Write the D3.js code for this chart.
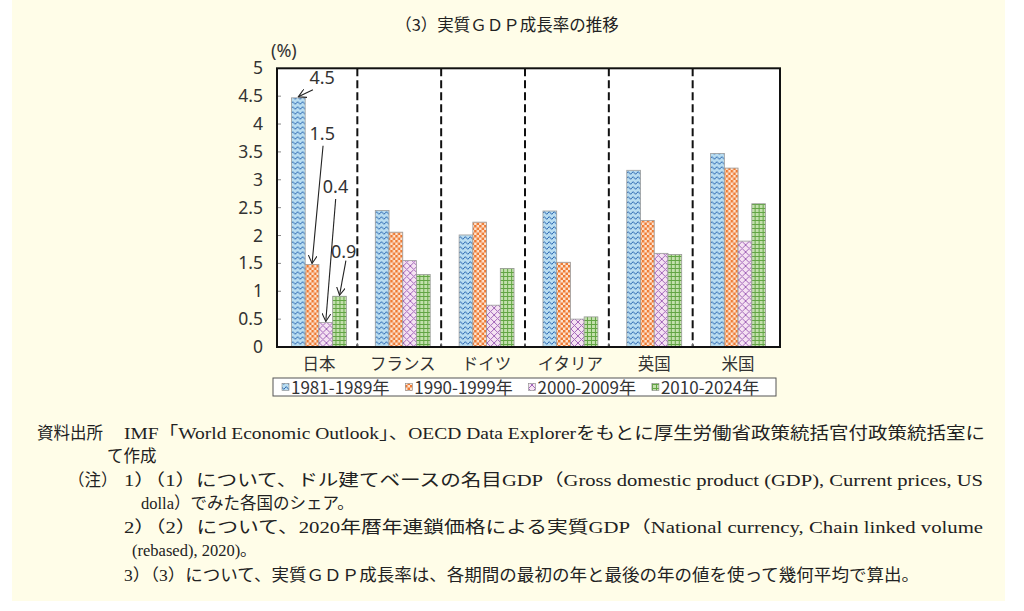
<!DOCTYPE html>
<html>
<head>
<meta charset="utf-8">
<script src="https://cdn.jsdelivr.net/npm/d3@7"></script>
<style>
  body { margin: 0; background: #fff; }
</style>
</head>
<body>
<div id="chart"></div>
<script>
// values
const countries = ["日本", "フランス", "ドイツ", "イタリア", "英国", "米国"];
const periods = ["1981-1989年", "1990-1999年", "2000-2009年", "2010-2024年"];
const growth1981 = [4.47, 2.45, 2.01, 2.44, 3.17, 3.47];
const growth1990 = [1.48, 2.06, 2.24, 1.52, 2.27, 3.21];
const growth2000 = [0.44, 1.55, 0.75, 0.50, 1.68, 1.90];
const growth2010 = [0.91, 1.30, 1.41, 0.54, 1.66, 2.57];
const yTicks = [0, 0.5, 1, 1.5, 2, 2.5, 3, 3.5, 4, 4.5, 5];

const title = "（3）実質ＧＤＰ成長率の推移";
const noteLines = [
  "資料出所",
  "IMF「World Economic Outlook」、OECD Data Explorerをもとに厚生労働省政策統括官付政策統括室に",
  "て作成",
  "（注）",
  "1）（1）について、ドル建てベースの名目GDP（Gross domestic product (GDP), Current prices, US",
  "dolla）でみた各国のシェア。",
  "2）（2）について、2020年暦年連鎖価格による実質GDP（National currency, Chain linked volume",
  "(rebased), 2020)。",
  "3）（3）について、実質ＧＤＰ成長率は、各期間の最初の年と最後の年の値を使って幾何平均で算出。"
];

const series = [growth1981, growth1990, growth2000, growth2010];
const data = countries.map((c, i) => ({
  country: c,
  values: periods.map((p, j) => ({ period: p, value: series[j][i] }))
}));

const CJK = "Noto Sans CJK JP, Noto Sans, sans-serif";
const LATIN = "Noto Sans, sans-serif";
const W = 1024, H = 611;
const plot = { left: 277, right: 780, top: 68.3, bottom: 347 };

const svg = d3.select("#chart").append("svg")
  .attr("width", W).attr("height", H)
  .attr("font-family", CJK);

svg.append("rect").attr("width", W).attr("height", H).attr("fill", "#fff");
svg.append("rect").attr("x", 12).attr("y", 0).attr("width", 993).attr("height", 601)
  .attr("fill", "#fffde8");

// patterns
const defs = svg.append("defs");
const pWave = defs.append("pattern").attr("id", "p0").attr("patternUnits", "userSpaceOnUse")
  .attr("width", 5).attr("height", 5);
pWave.append("rect").attr("width", 5).attr("height", 5).attr("fill", "#b9ddf1");
pWave.append("path").attr("d", "M0,3 Q1.25,0.3 2.5,3 T5,3").attr("fill", "none")
  .attr("stroke", "#2a66b0").attr("stroke-width", 1);

const pCheck = defs.append("pattern").attr("id", "p1").attr("patternUnits", "userSpaceOnUse")
  .attr("width", 5).attr("height", 5);
pCheck.append("rect").attr("width", 5).attr("height", 5).attr("fill", "#fde3cf");
pCheck.append("rect").attr("width", 2.5).attr("height", 2.5).attr("fill", "#ee7a33");
pCheck.append("rect").attr("x", 2.5).attr("y", 2.5).attr("width", 2.5).attr("height", 2.5).attr("fill", "#ee7a33");

const pLat = defs.append("pattern").attr("id", "p2").attr("patternUnits", "userSpaceOnUse")
  .attr("width", 7).attr("height", 7);
pLat.append("rect").attr("width", 7).attr("height", 7).attr("fill", "#f5e2f2");
pLat.append("path").attr("d", "M0,0 L7,7 M7,0 L0,7").attr("stroke", "#a266b9").attr("stroke-width", 1);

const pGrid = defs.append("pattern").attr("id", "p3").attr("patternUnits", "userSpaceOnUse")
  .attr("width", 4).attr("height", 4);
pGrid.append("rect").attr("width", 4).attr("height", 4).attr("fill", "#c3e0ad");
pGrid.append("path").attr("d", "M0.5,0 V4 M0,0.5 H4").attr("stroke", "#62a544").attr("stroke-width", 1);

defs.append("marker").attr("id", "arrow").attr("viewBox", "0 0 10 10")
  .attr("refX", 9).attr("refY", 5).attr("markerWidth", 9).attr("markerHeight", 9)
  .attr("markerUnits", "userSpaceOnUse").attr("orient", "auto")
  .append("path").attr("d", "M0,0 L9,5 L0,10").attr("fill", "none")
  .attr("stroke", "#222").attr("stroke-width", 1.2);

const fillFor = d3.scaleOrdinal().domain(periods).range(["url(#p0)", "url(#p1)", "url(#p2)", "url(#p3)"]);

// scales
const x0 = d3.scaleBand().domain(countries).range([plot.left, plot.right])
  .paddingInner(0.345).paddingOuter(0.1725);
const x1 = d3.scaleBand().domain(periods).range([0, x0.bandwidth()]);
const y = d3.scaleLinear().domain([0, 5]).range([plot.bottom, plot.top]);

// title
svg.append("text").attr("x", 507).attr("y", 31).attr("text-anchor", "middle")
  .attr("font-size", 16.5).attr("fill", "#222").text(title);

// plot area
svg.append("rect").attr("x", plot.left).attr("y", plot.top)
  .attr("width", plot.right - plot.left).attr("height", plot.bottom - plot.top)
  .attr("fill", "#fff");

// dashed separators
const step = x0.step();
d3.range(1, countries.length).forEach(i => {
  const xs = plot.left + i * step - 3.5;
  svg.append("line").attr("x1", xs).attr("x2", xs)
    .attr("y1", plot.top).attr("y2", plot.bottom)
    .attr("stroke", "#111").attr("stroke-width", 2).attr("stroke-dasharray", "8,4");
  svg.append("line").attr("x1", xs).attr("x2", xs)
    .attr("y1", plot.bottom - 4).attr("y2", plot.bottom)
    .attr("stroke", "#777").attr("stroke-width", 1);
});

// bars
const groups = svg.selectAll(".grp").data(data).enter().append("g")
  .attr("transform", d => `translate(${x0(d.country)},0)`);
groups.selectAll("rect").data(d => d.values).enter().append("rect")
  .attr("x", d => x1(d.period))
  .attr("y", d => y(d.value))
  .attr("width", x1.bandwidth())
  .attr("height", d => y(0) - y(d.value))
  .attr("fill", d => fillFor(d.period))
  .attr("stroke", "#9b9b9b").attr("stroke-width", 0.8);

// y axis
const yAxis = svg.append("g").attr("transform", `translate(${plot.left},0)`)
  .call(d3.axisLeft(y).tickValues(yTicks).tickSize(0).tickPadding(14).tickFormat(d3.format("~g")));
yAxis.select(".domain").remove();
yAxis.selectAll("text").attr("font-size", 17.5).attr("fill", "#333")
  .attr("font-family", LATIN);
yTicks.slice(1, -1).forEach(t => {
  svg.append("line").attr("x1", plot.left).attr("x2", plot.left + 4)
    .attr("y1", y(t)).attr("y2", y(t)).attr("stroke", "#888").attr("stroke-width", 1);
});
svg.append("text").attr("x", 271).attr("y", 57).attr("font-size", 18).attr("fill", "#333")
  .attr("font-family", LATIN).text("(%)");

// frame
svg.append("rect").attr("x", plot.left).attr("y", plot.top)
  .attr("width", plot.right - plot.left).attr("height", plot.bottom - plot.top)
  .attr("fill", "none").attr("stroke", "#111").attr("stroke-width", 2);

// x axis labels
const xAxis = svg.append("g").attr("transform", `translate(0,${plot.bottom})`)
  .call(d3.axisBottom(x0).tickSize(0).tickPadding(11));
xAxis.select(".domain").remove();
xAxis.selectAll("text").attr("font-size", 16.5).attr("fill", "#333").attr("font-family", CJK);

// Japan annotations
const annotLayout = [
  { sx: 14.6, sy: -7, lx: 23.8, ly: -18.8 },
  { sx: 11, sy: -117.8, lx: 10.2, ly: -129.5 },
  { sx: 9.9, sy: -122.5, lx: 9.7, ly: -134.5 },
  { sx: 6.4, sy: -34.6, lx: 4.1, ly: -43.3 }
];
const fmt = d3.format(".1f");
data[0].values.forEach((d, j) => {
  const tx = x0(data[0].country) + x1(d.period) + x1.bandwidth() / 2;
  const ty = y(d.value) - 1;
  const a = annotLayout[j];
  svg.append("line").attr("x1", tx + a.sx).attr("y1", ty + a.sy)
    .attr("x2", tx).attr("y2", ty)
    .attr("stroke", "#222").attr("stroke-width", 1.1).attr("marker-end", "url(#arrow)");
  svg.append("text").attr("x", tx + a.lx).attr("y", ty + a.ly)
    .attr("dy", "0.35em").attr("text-anchor", "middle")
    .attr("font-size", 18).attr("fill", "#333").attr("font-family", LATIN)
    .text(fmt(d.value));
});

// legend
const legend = svg.append("g");
legend.append("rect").attr("x", 273).attr("y", 378).attr("width", 503).attr("height", 18)
  .attr("fill", "#fff").attr("stroke", "#555").attr("stroke-width", 1);
periods.forEach((p, j) => {
  const lx = 282 + j * 123.3;
  legend.append("rect").attr("x", lx).attr("y", 383.5).attr("width", 7).attr("height", 7)
    .attr("fill", fillFor(p)).attr("stroke", "#888").attr("stroke-width", 0.6);
  legend.append("text").attr("x", lx + 9).attr("y", 393.5)
    .attr("font-size", 17).attr("fill", "#333").text(p);
});

// source and notes
const noteLayout = [
  { x: 37, y: 439 },
  { x: 124, y: 439, len: 861 },
  { x: 107, y: 462 },
  { x: 68, y: 486 },
  { x: 124, y: 486, len: 859 },
  { x: 141, y: 509 },
  { x: 124, y: 533, len: 859 },
  { x: 132, y: 556 },
  { x: 124, y: 581, len: 795 }
];
noteLines.forEach((t, i) => {
  const l = noteLayout[i];
  const el = svg.append("text").attr("x", l.x).attr("y", l.y)
    .attr("font-size", 16.5).attr("fill", "#222")
    .attr("font-family", "Liberation Serif, Noto Sans CJK JP, serif")
    .text(t);
  if (l.len) el.attr("textLength", l.len).attr("lengthAdjust", "spacingAndGlyphs");
});
</script>
</body>
</html>
